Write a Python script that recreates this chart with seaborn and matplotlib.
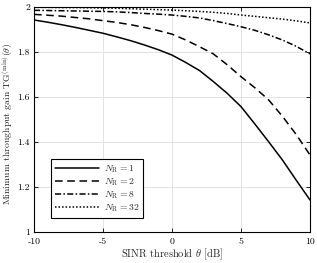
import matplotlib
matplotlib.use("Agg")

import numpy as np
import pandas as pd
import matplotlib.pyplot as plt
import seaborn as sns

# SINR threshold theta [dB]
theta = [-10, -9, -8, -7, -6, -5, -4, -3, -2, -1, 0, 1, 2, 3, 4, 5, 6, 7, 8, 9, 10]

# minimum throughput gain per number of receive antennas
tg_nr1 = [1.941, 1.931, 1.920, 1.908, 1.895, 1.882, 1.866, 1.849, 1.830, 1.809, 1.785,
          1.752, 1.716, 1.667, 1.615, 1.556, 1.479, 1.400, 1.319, 1.229, 1.141]
tg_nr2 = [1.966, 1.962, 1.958, 1.952, 1.946, 1.938, 1.930, 1.920, 1.908, 1.894, 1.878,
          1.852, 1.822, 1.790, 1.742, 1.689, 1.640, 1.586, 1.513, 1.432, 1.341]
tg_nr8 = [1.984, 1.983, 1.982, 1.981, 1.980, 1.979, 1.977, 1.974, 1.970, 1.967, 1.963,
          1.957, 1.950, 1.938, 1.925, 1.911, 1.895, 1.875, 1.852, 1.824, 1.790]
tg_nr32 = [1.997, 1.997, 1.996, 1.996, 1.995, 1.994, 1.993, 1.991, 1.989, 1.987, 1.985,
           1.982, 1.979, 1.975, 1.970, 1.963, 1.957, 1.951, 1.945, 1.937, 1.928]

labels = [r"$N_\mathrm{R}=1$", r"$N_\mathrm{R}=2$", r"$N_\mathrm{R}=8$", r"$N_\mathrm{R}=32$"]

df = pd.concat([
    pd.DataFrame({"theta": theta, "tg": vals, "nr": lab})
    for vals, lab in zip([tg_nr1, tg_nr2, tg_nr8, tg_nr32], labels)
])

sns.set_style("whitegrid", {"grid.color": "#e3e3e3", "axes.edgecolor": "black",
                            "xtick.direction": "in", "ytick.direction": "in"})
plt.rcParams["font.family"] = ["serif"]
plt.rcParams["font.serif"] = ["cmr10", "DejaVu Serif"]
plt.rcParams["mathtext.fontset"] = "cm"
plt.rcParams["axes.unicode_minus"] = False
plt.rcParams["axes.formatter.use_mathtext"] = True

fig = plt.figure(figsize=(3.17, 2.63), dpi=100)
ax = fig.add_axes([34 / 317, 1 - 231.7 / 263, 276 / 317, 225 / 263])

dashes = {labels[0]: "", labels[1]: (5, 3), labels[2]: (4, 1.5, 1, 1.5), labels[3]: (1, 1.3)}
sns.lineplot(data=df, x="theta", y="tg", hue="nr", style="nr",
             palette=["black"] * 4, dashes=dashes, linewidth=1.1, ax=ax)

ax.set_xlim(-10, 10)
ax.set_ylim(1, 2)
ax.set_xticks([-10, -5, 0, 5, 10])
ax.set_yticks([1, 1.2, 1.4, 1.6, 1.8, 2])
ax.set_xticklabels(["-10", "-5", "0", "5", "10"])
ax.set_yticklabels(["1", "1.2", "1.4", "1.6", "1.8", "2"])
ax.tick_params(labelsize=7, length=3, width=0.6, top=True, right=True,
               bottom=True, left=True, colors="black", pad=3)
ax.tick_params(axis="x", pad=4)
for s in ax.spines.values():
    s.set_linewidth(0.8)
    s.set_color("black")
ax.grid(True, color="#e3e3e3", linewidth=0.7)

ax.set_xlabel(r"SINR threshold $\theta$ [dB]", fontsize=7.5, labelpad=1)
ax.set_ylabel(r"Minimum throughput gain $\mathrm{TG}^{(\mathrm{min})}(\theta)$",
              fontsize=7)
ax.yaxis.set_label_coords(-0.068, 0.48)

leg = ax.legend(loc="lower left", bbox_to_anchor=(0.045, 0.04), fontsize=7,
                frameon=True, fancybox=False, edgecolor="black", framealpha=1,
                handlelength=4.5, borderpad=0.4, labelspacing=0.15, handletextpad=0.5)
leg.get_frame().set_linewidth(0.8)
for line in leg.get_lines():
    line.set_linewidth(1.1)

fig.savefig("out.png", dpi=100)
